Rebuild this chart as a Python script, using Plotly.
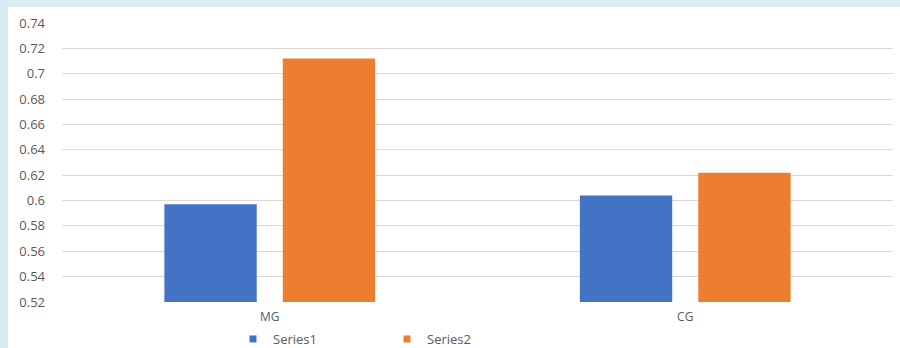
import plotly.graph_objects as go

categories = ["MG", "CG"]
series1 = [0.597, 0.604]
series2 = [0.712, 0.622]
tick_vals = [0.52, 0.54, 0.56, 0.58, 0.60, 0.62, 0.64, 0.66, 0.68, 0.70, 0.72, 0.74]
tick_text = ["0.52", "0.54", "0.56", "0.58", "0.6", "0.62", "0.64", "0.66", "0.68", "0.7", "0.72", "0.74"]

W, H = 900, 348
L, R, T, B = 62, 7, 23, 46
pw, ph = W - L - R, H - T - B
C1, C2 = "#4472C4", "#ED7D31"

fig = go.Figure()
fig.add_trace(go.Bar(name="Series1", x=categories, y=series1, marker_color=C1,
                     marker_line_width=0, showlegend=False))
fig.add_trace(go.Bar(name="Series2", x=categories, y=series2, marker_color=C2,
                     marker_line_width=0, showlegend=False))
# legend entries with small square markers
fig.add_trace(go.Scatter(name="Series1", x=[None], y=[None], mode="markers",
                         marker=dict(symbol="square", size=7, color=C1)))
fig.add_trace(go.Scatter(name="Series2", x=[None], y=[None], mode="markers",
                         marker=dict(symbol="square", size=7, color=C2)))

fig.add_shape(type="rect", xref="paper", yref="paper",
              x0=(8 - L) / pw, x1=(W + 5 - L) / pw, y0=-(B + 5) / ph, y1=(ph + T - 7) / ph,
              fillcolor="white", line_width=0, layer="below")

fig.update_layout(
    width=W, height=H,
    margin=dict(l=L, r=R, t=T, b=B, autoexpand=False),
    paper_bgcolor="#D8ECF1",
    plot_bgcolor="white",
    barmode="group",
    bargap=0.43,
    bargroupgap=0.22,
    font=dict(family="Open Sans", size=13, color="#595959"),
    xaxis=dict(showgrid=False, showline=False, ticks="", automargin=False,
               ticklabelstandoff=6, tickfont=dict(size=12, color="#595959")),
    yaxis=dict(range=[0.52, 0.74], tickvals=tick_vals, ticktext=tick_text,
               showgrid=True, gridcolor="#D9D9D9", gridwidth=1, zeroline=False,
               showline=False, ticks="", ticklabelstandoff=16, automargin=False,
               tickfont=dict(size=13, color="#595959")),
    showlegend=True,
    legend=dict(orientation="h", x=(233 - L) / pw, xanchor="left",
                y=-(339 - (T + ph)) / ph, yanchor="middle",
                entrywidth=109, entrywidthmode="pixels",
                font=dict(size=13, color="#595959"),
                bgcolor="rgba(0,0,0,0)", itemwidth=30, tracegroupgap=0),
)

fig.write_html("out.html")
